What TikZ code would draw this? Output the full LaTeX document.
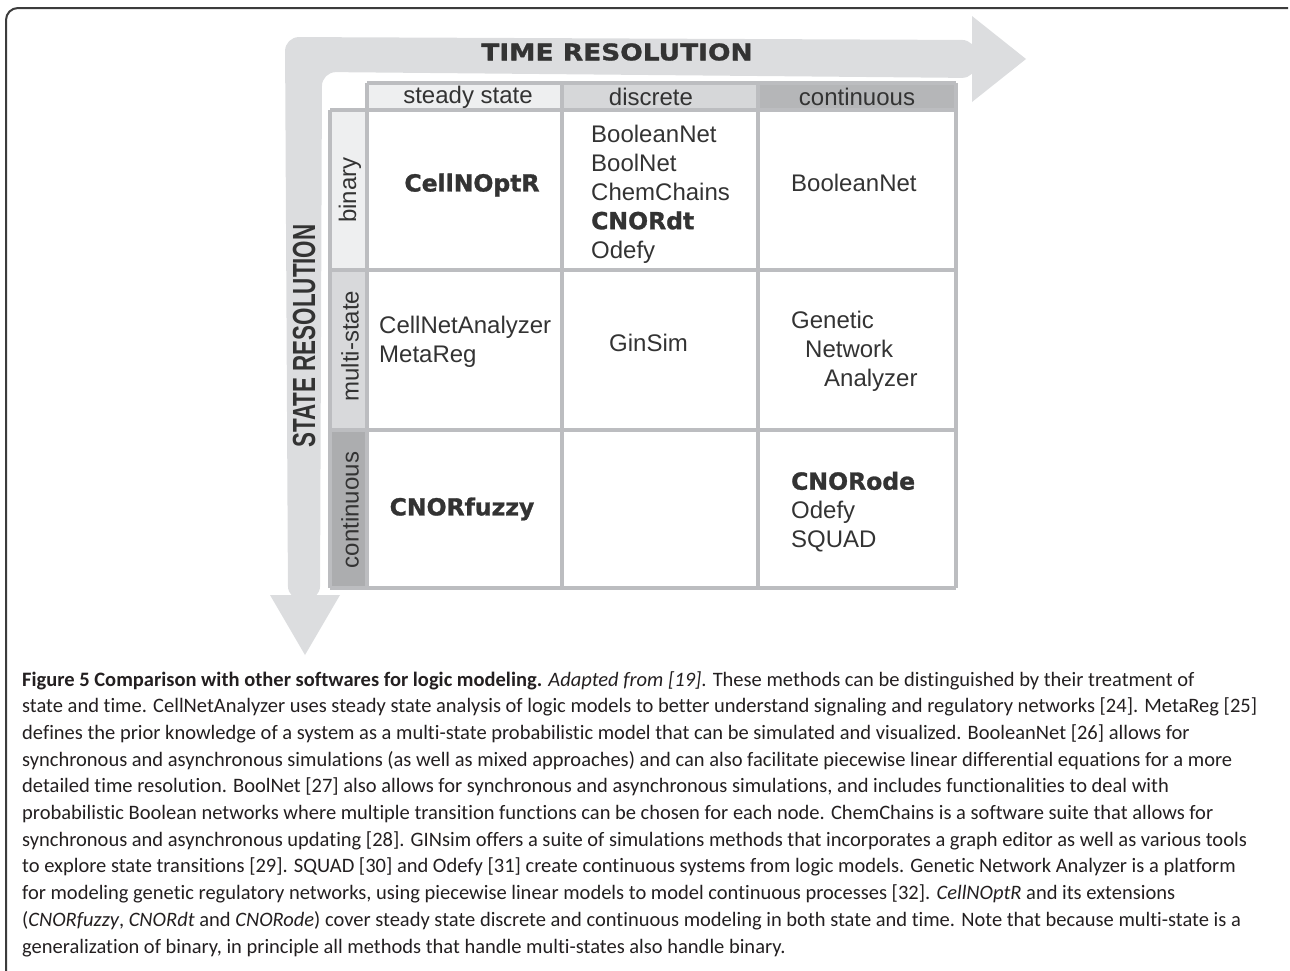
\documentclass[tikz,border=0pt]{standalone}
\usepackage{fontspec}
\setmainfont{Liberation Sans}
\newfontfamily\blackfont{DejaVu Sans}[BoldFeatures={FakeBold=1.2}]
\newfontfamily\timefont{DejaVu Sans}[FakeStretch=1.15, BoldFeatures={FakeBold=1.2}]
\newfontfamily\statefont{Liberation Sans}[FakeStretch=0.70]
\newfontfamily\capfont{Carlito}[Ligatures=NoCommon]
\usetikzlibrary{positioning}

\definecolor{bandgray}{RGB}{220,221,223}
\definecolor{gridgray}{RGB}{188,189,192}
\definecolor{lightfill}{RGB}{238,239,240}
\definecolor{midfill}{RGB}{214,215,217}
\definecolor{darkfill}{RGB}{181,182,184}
\definecolor{inktext}{RGB}{51,51,51}
\definecolor{capink}{RGB}{35,31,32}
\definecolor{framegray}{RGB}{60,60,60}

\tikzset{
  gridline/.style={gridgray, line width=3.5, line cap=square},
  celltext/.style={text=inktext, inner sep=0, font=\fontsize{24}{29}\selectfont},
  boldtool/.style={celltext, font=\blackfont\bfseries\fontsize{23.5}{29}\selectfont},
  listtext/.style={celltext, anchor=west, align=left},
  axistext/.style={text=inktext, inner sep=0},
  captext/.style={text=capink, inner sep=0, align=left, font=\capfont\fontsize{20.5}{26.7}\selectfont}
}

\begin{document}
\begin{tikzpicture}[x=1pt, y=-1pt]
    \useasboundingbox (0,0) rectangle (1290,970);

    % Figure frame
    \draw[framegray, line width=2, rounded corners=12] (6,975) -- (6,8) -- (1288,8);

    % Resolution arrows
    \fill[bandgray, rounded corners=14] (288,600) -- (285,37) -- (976,40) -- (976,78) -- (322,72) -- (320,600) -- cycle;
    \fill[bandgray] (972,16) -- (1026,59) -- (972,102) -- cycle;
    \fill[bandgray] (270,595) -- (340,595) -- (305,655) -- cycle;
    \node[axistext, font=\timefont\bfseries\fontsize{23}{23}\selectfont] (timeres) at (617,52) {TIME RESOLUTION};
    \node[axistext, rotate=90, font=\statefont\bfseries\fontsize{32}{32}\selectfont] (stateres) at (304,336) {STATE RESOLUTION};

    % Header fills
    \fill[lightfill] (367,83) rectangle (562,110);
    \fill[midfill] (562,83) rectangle (758,110);
    \fill[darkfill] (758,83) rectangle (956,110);
    \fill[lightfill] (330,110) rectangle (367,270);
    \fill[midfill!95!white] (330,270) rectangle (367,430);
    \fill[darkfill!95!black] (330,430) rectangle (367,588);

    % Grid
    \draw[gridline] (367,83) -- (956,83);
    \foreach \yy in {110,270,430,588}
        \draw[gridline] (330,\yy) -- (956,\yy);
    \draw[gridline] (330,110) -- (330,588);
    \foreach \xx in {367,562,758,956}
        \draw[gridline] (\xx,83) -- (\xx,588);

    % Column and row headers
    \node[celltext] (hdsteady) at (468,97) {steady state};
    \node[celltext] (hddisc) at (651,97) {discrete};
    \node[celltext] (hdcont) at (857,97) {continuous};
    \node[celltext, rotate=90] (rowbin) at (350,190) {binary};
    \node[celltext, rotate=90] (rowmulti) at (350,346) {multi-state};
    \node[celltext, rotate=90] (rowcont) at (350,510) {continuous};

    % Binary row
    \node[boldtool] (binsteady) at (472,185) {CellNOptR};
    \node[listtext] (bindisc) at (591,194) {BooleanNet\\BoolNet\\ChemChains\\{\blackfont\bfseries\fontsize{23.5}{29}\selectfont CNORdt}\\Odefy};
    \node[celltext, anchor=west] (bincont) at (791,183) {BooleanNet};

    % Multi-state row
    \node[listtext] (multisteady) at (379,342) {CellNetAnalyzer\\MetaReg};
    \node[celltext, anchor=west] (multidisc) at (609,343) {GinSim};
    \node[listtext] (multicont) at (791,351) {Genetic\\\hspace*{14pt}Network\\\hspace*{33pt}Analyzer};

    % Continuous row
    \node[boldtool] (contsteady) at (462,509) {CNORfuzzy};
    \node[listtext] (contcont) at (791,512) {{\blackfont\bfseries\fontsize{23.5}{29}\selectfont CNORode}\\Odefy\\SQUAD};

    % Caption
    \node[captext, anchor=north west] (caption) at (22,671) {%
{\bfseries Figure 5 Comparison with other softwares for logic modeling.} \textit{Adapted from [19]}. These methods can be distinguished by their treatment of\\
state and time. CellNetAnalyzer uses steady state analysis of logic models to better understand signaling and regulatory networks [24]. MetaReg [25]\\
defines the prior knowledge of a system as a multi-state probabilistic model that can be simulated and visualized. BooleanNet [26] allows for\\
synchronous and asynchronous simulations (as well as mixed approaches) and can also facilitate piecewise linear differential equations for a more\\
detailed time resolution. BoolNet [27] also allows for synchronous and asynchronous simulations, and includes functionalities to deal with\\
probabilistic Boolean networks where multiple transition functions can be chosen for each node. ChemChains is a software suite that allows for\\
synchronous and asynchronous updating [28]. GINsim offers a suite of simulations methods that incorporates a graph editor as well as various tools\\
to explore state transitions [29]. SQUAD [30] and Odefy [31] create continuous systems from logic models. Genetic Network Analyzer is a platform\\
for modeling genetic regulatory networks, using piecewise linear models to model continuous processes [32]. \textit{CellNOptR} and its extensions\\
(\textit{CNORfuzzy}, \textit{CNORdt} and \textit{CNORode}) cover steady state discrete and continuous modeling in both state and time. Note that because multi-state is a\\
generalization of binary, in principle all methods that handle multi-states also handle binary.};
\end{tikzpicture}
\end{document}
